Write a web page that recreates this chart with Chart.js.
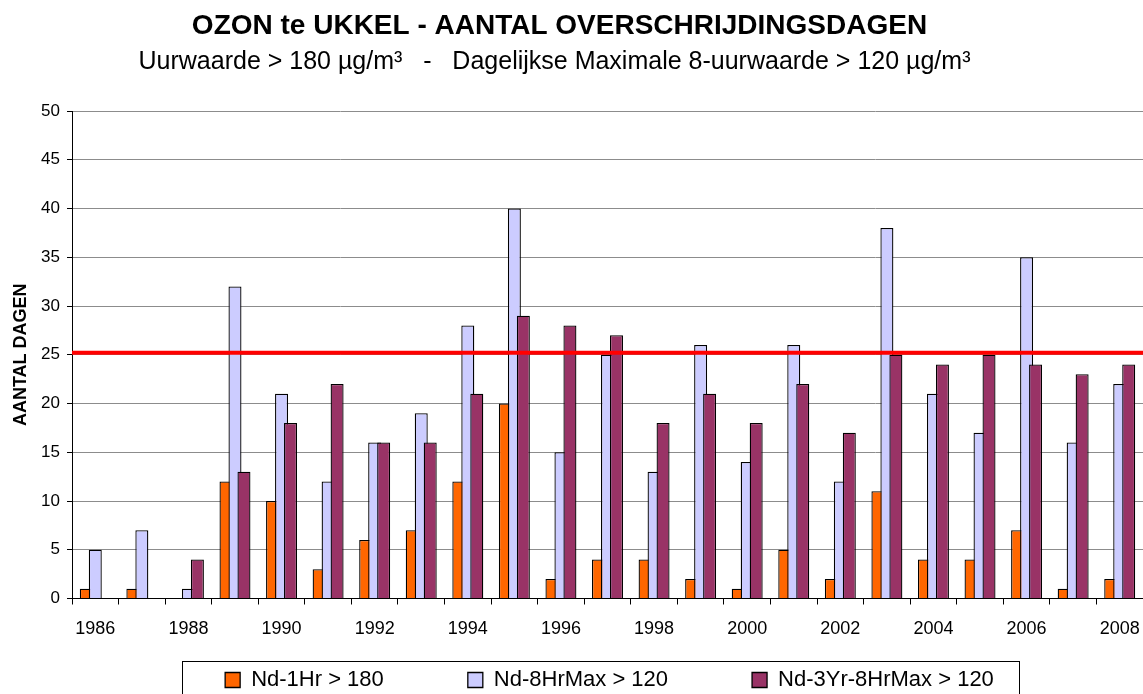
<!DOCTYPE html>
<html>
<head>
<meta charset="utf-8">
<script src="https://cdn.jsdelivr.net/npm/chart.js@4.4.1/dist/chart.umd.min.js"></script>
<style>
html, body { margin: 0; padding: 0; background: #ffffff; }
canvas { display: block; }
</style>
</head>
<body>
<canvas id="c" width="1143" height="694"></canvas>
<script>
// ---- data ----
const years = ['1986','1987','1988','1989','1990','1991','1992','1993','1994','1995','1996','1997',
               '1998','1999','2000','2001','2002','2003','2004','2005','2006','2007','2008'];
const nd1Hr       = [1, 1, 0, 12, 10, 3, 6, 7, 12, 20, 2, 4, 4, 2, 1, 5, 2, 11, 4, 4, 7, 1, 2];
const nd8HrMax    = [5, 7, 1, 32, 21, 12, 16, 19, 28, 40, 15, 25, 13, 26, 14, 26, 12, 38, 21, 17, 35, 16, 22];
const nd3Yr8HrMax = [null, null, 4, 13, 18, 22, 16, 16, 21, 29, 28, 27, 18, 21, 18, 22, 17, 25, 24, 25, 24, 23, 24];
const limitValue  = 25.2;
const seriesLabels = ['Nd-1Hr > 180', 'Nd-8HrMax > 120', 'Nd-3Yr-8HrMax > 120'];
const yMin = 0, yMax = 50, yStep = 5;
const TITLE = 'OZON te UKKEL - AANTAL OVERSCHRIJDINGSDAGEN';
const SUBTITLE = 'Uurwaarde > 180 \u00b5g/m\u00b3   -   Dagelijkse Maximale 8-uurwaarde > 120 \u00b5g/m\u00b3';
const Y_TITLE = 'AANTAL DAGEN';

// ---- style ----
const FONT = '"Liberation Sans", Arial, Helvetica, sans-serif';
const colors = ['#FF6600', '#CCCCFF', '#993366'];
const BAR_SHIFT = 0.193;          // overlap offset of the three bars within a year (fraction of slot)
const LEGEND_PAD = 84;
const LEGEND_SHIFT = 38;
const LEGEND_CENTER_Y = 680;

Chart.defaults.font.family = FONT;
Chart.defaults.color = '#000';

const shifts = [-BAR_SHIFT, 0, BAR_SHIFT];
const series = [nd1Hr, nd8HrMax, nd3Yr8HrMax];
const drawOrder = [3, 2, 1];

const barSets = series.map((vals, s) => ({
  type: 'bar',
  label: seriesLabels[s],
  data: vals.map((v, i) => ({ x: i + shifts[s], y: v })),
  backgroundColor: colors[s],
  borderColor: '#000',
  borderWidth: 1.3,
  borderSkipped: 'bottom',
  inflateAmount: 0,
  barThickness: 13,
  grouped: false,
  order: drawOrder[s],
  xAxisID: 'x',
  yAxisID: 'y'
}));

const limitSet = {
  type: 'line',
  label: 'limit',
  data: [{ x: -0.5, y: limitValue }, { x: years.length - 0.5, y: limitValue }],
  borderColor: '#FF0000',
  borderWidth: 4,
  pointRadius: 0,
  fill: false,
  order: 0,
  xAxisID: 'x',
  yAxisID: 'y'
};

const layoutFix = {
  id: 'layoutFix',
  afterLayout(chart) {
    const lg = chart.legend;
    if (lg) {
      lg.left += LEGEND_SHIFT;
      lg.right += LEGEND_SHIFT;
      lg.top = LEGEND_CENTER_Y - LEGEND_PAD - 11;
    }
    chart.boxes.forEach(b => {
      if (b.options && b.options.text === TITLE) { b.left -= 12; b.right -= 12; }
      if (b.options && b.options.text === SUBTITLE) { b.left -= 17; b.right -= 17; }
    });
  },
  afterDraw(chart) {
    const ctx = chart.ctx;
    ctx.save();
    ctx.strokeStyle = '#000';
    ctx.lineWidth = 1;
    ctx.strokeRect(182.5, 661.5, 837, 60);
    ctx.restore();
  }
};

new Chart(document.getElementById('c'), {
  type: 'bar',
  data: { labels: years, datasets: [...barSets, limitSet] },
  plugins: [layoutFix],
  options: {
    responsive: false,
    animation: false,
    layout: { padding: 0 },
    plugins: {
      title: {
        display: true, text: TITLE, color: '#000',
        font: { size: 28, weight: 'bold', family: FONT },
        padding: { top: 9, bottom: 0 }
      },
      subtitle: {
        display: true, text: SUBTITLE, color: '#000',
        font: { size: 25, weight: 'normal', family: FONT },
        padding: { top: 5, bottom: 33.4 }
      },
      legend: {
        display: true, position: 'bottom', align: 'center', maxHeight: 59.5,
        labels: {
          font: { size: 22, family: FONT }, color: '#000',
          boxWidth: 15, boxHeight: 15, padding: LEGEND_PAD,
          filter: (item) => item.datasetIndex < 3,
          sort: (a, b) => a.datasetIndex - b.datasetIndex
        }
      },
      tooltip: { enabled: false }
    },
    scales: {
      x: {
        type: 'linear', display: false, offset: false,
        min: -0.5, max: years.length - 0.5, position: 'bottom'
      },
      xc: {
        type: 'category', position: 'bottom', offset: true,
        grid: { offset: true, drawOnChartArea: false, drawTicks: true, tickLength: 6, color: '#000', tickColor: '#000' },
        border: { display: true, color: '#000', width: 1 },
        ticks: {
          autoSkip: false, maxRotation: 0, minRotation: 0, padding: 14,
          font: { size: 18, family: FONT }, color: '#000',
          callback: function (value, index) { return index % 2 === 0 ? this.getLabelForValue(value) : ''; }
        },
        afterFit: (s) => { s.height = 36; s.paddingLeft = 0; s.paddingRight = 0; }
      },
      y: {
        type: 'linear', position: 'left', min: yMin, max: yMax,
        ticks: { stepSize: yStep, font: { size: 17, family: FONT }, color: '#000', padding: 7 },
        grid: { color: '#8c8c8c', tickColor: '#000', tickLength: 5, lineWidth: 1 },
        border: { display: true, color: '#000', width: 1 },
        title: {
          display: true, text: Y_TITLE, color: '#000',
          font: { size: 18, weight: 'bold', family: FONT },
          padding: { top: 10, bottom: 0 }
        },
        afterFit: (s) => { s.width = 72; }
      }
    }
  }
});
</script>
</body>
</html>
